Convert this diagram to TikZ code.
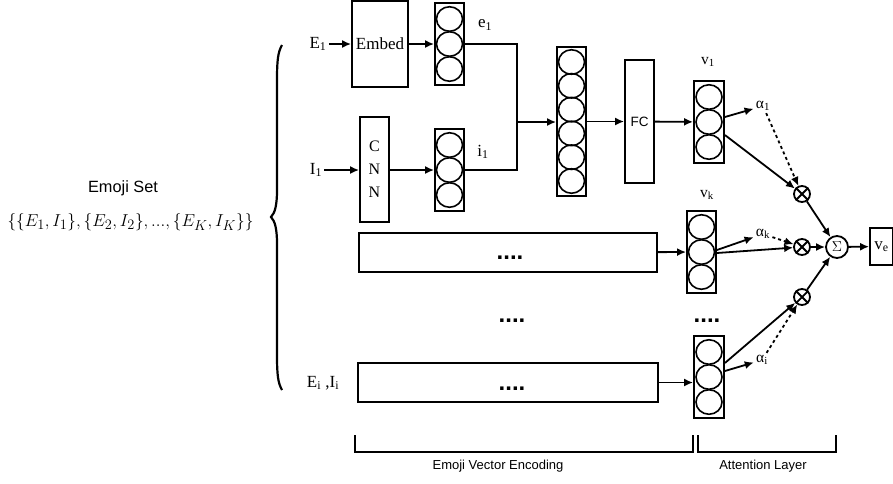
\documentclass[tikz,border=0pt]{standalone}
\usepackage{fontspec}
\setmainfont{Liberation Serif}
\setsansfont{Liberation Sans}
\usetikzlibrary{arrows.meta,calc,shapes.geometric}

% ellipses stacked in a vector box: name, count, spacing
\newcommand{\cellstack}[3]{%
  \foreach \k in {1,...,#2}
    \node[cell] (#1-\k) at ($(#1.center)+(0,{(\k-(#2+1)/2)*#3})$) {};
}

\begin{document}
\begin{tikzpicture}[x=1pt, y=-1pt, line width=1.8pt,
  serif/.style={font=\fontsize{17}{20}\selectfont, inner sep=1.5pt},
  small/.style={font=\fontsize{15.5}{18}\selectfont, inner sep=1.5pt},
  sans/.style={font=\fontsize{13}{15}\sffamily},
  box/.style={draw, rectangle, inner sep=0pt},
  vecbox/.style={box, minimum width=29pt, minimum height=82pt},
  cell/.style={draw, ellipse, inner sep=0pt, minimum width=26pt, minimum height=24.5pt, line width=1.6pt},
  otimes/.style={draw, circle, inner sep=0pt, minimum size=16pt},
  arr/.style={-{Latex[length=9pt,width=8pt]}},
  dotarr/.style={arr, dash pattern=on 3pt off 3pt},
  dots/.style={font=\fontsize{24}{24}\sffamily\bfseries, inner sep=0pt}]
  \useasboundingbox (0,0) rectangle (893,483);

  % emoji set and brace
  \node[font=\fontsize{16.3}{18}\sffamily] (settitle) at (123,188) {Emoji Set};
  \node[font=\fontsize{19}{21}\selectfont] (setlist) at (130.5,222) {$\{\{E_1,I_1\},\{E_2,I_2\},...,\{E_K,I_K\}\}$};
  \draw[line width=2.2pt] (282,45) .. controls (278,52) and (277,60) .. (277,80) -- (277,190)
    .. controls (277,205) and (275,213) .. (271,217) .. controls (275,221) and (277,229) .. (277,244)
    -- (277,355) .. controls (277,375) and (278,383) .. (282,390);

  % emoji text branch
  \node[serif] (E1) at (318,44) {E\textsubscript{1}};
  \node[box, serif, minimum width=56pt, minimum height=86pt] (embed) at (380,44) {Embed};
  \node[vecbox] (ev) at (449.5,44) {};
  \cellstack{ev}{3}{25}
  \node[serif] (elab) at (485,25) {e\textsubscript{1}};
  \draw[arr] (E1) -- (embed);
  \draw[arr] (embed) -- (ev);

  % emoji image branch
  \node[serif] (I1) at (316,170) {I\textsubscript{1}};
  \node[box, align=center, minimum width=29pt, minimum height=105pt, font=\fontsize{16}{23}\selectfont] (cnn) at (374.5,169.5) {C\\N\\N};
  \node[vecbox] (iv) at (449.5,170) {};
  \cellstack{iv}{3}{25}
  \node[serif] (ilab) at (483,152) {i\textsubscript{1}};
  \draw[arr] (I1) -- (cnn.west |- I1);
  \draw[arr] (cnn.east |- iv) -- (iv);

  % concatenation, FC, v1
  \coordinate (join) at (517,122);
  \draw (ev.east) -| (join) |- (iv.east);
  \node[vecbox, minimum height=149pt] (cat) at (571.5,121.5) {};
  \cellstack{cat}{6}{23.8}
  \draw[arr] (join) -- (cat.west |- join);
  \node[box, minimum width=29pt, minimum height=123pt, font=\fontsize{13.5}{15}\sffamily] (fc) at (639.5,121.5) {FC};
  \draw[arr] (cat) -- (fc);
  \node[vecbox, minimum width=30pt] (v1) at (709,122) {};
  \cellstack{v1}{3}{25}
  \node[small] (v1lab) at (708,62) {v\textsubscript{1}};
  \draw[arr] (fc) -- (v1);

  % attention for v1
  \node[small] (a1) at (763,106) {α\textsubscript{1}};
  \node[otimes] (m1) at (802,194) {};
  \draw (m1.north east) -- (m1.south west) (m1.north west) -- (m1.south east);
  \draw[arr] ($(v1.east)+(0,-5)$) -- (a1);
  \draw[arr] ($(v1.east)+(0,13)$) -- (m1);
  \draw[dotarr] (a1) -- (m1);

  % k-th emoji
  \node[box, minimum width=298pt, minimum height=39pt] (rowk) at (508,252.5) {};
  \node[dots] (dotsk) at (510,258) {....};
  \node[vecbox] (vk) at (701.5,252) {};
  \cellstack{vk}{3}{25}
  \node[small] (vklab) at (707,195) {v\textsubscript{k}};
  \draw[arr] (rowk) -- (vk);
  \node[small] (ak) at (763,234) {α\textsubscript{k}};
  \node[otimes] (mk) at (802,247) {};
  \draw (mk.north east) -- (mk.south west) (mk.north west) -- (mk.south east);
  \draw[arr] ($(vk.east)+(0,-2)$) -- (ak);
  \draw[arr] ($(vk.east)+(0,1)$) -- (mk);
  \draw[dotarr] (ak) -- (mk);

  % skipped rows
  \node[dots] (dotsa) at (512,321) {....};
  \node[dots] (dotsb) at (707,321) {....};

  % i-th emoji
  \node[serif] (Ei) at (323,383) {E\textsubscript{i} ,I\textsubscript{i}};
  \node[box, minimum width=300pt, minimum height=39pt] (rowi) at (508,382.5) {};
  \node[dots] (dotsi) at (512,389) {....};
  \node[vecbox, minimum width=30pt] (vi) at (709,377) {};
  \cellstack{vi}{3}{25}
  \draw[arr] (rowi.east) -- (vi.west |- rowi.east);
  \node[small] (ai) at (762,360) {α\textsubscript{i}};
  \node[otimes] (mi) at (802,297) {};
  \draw (mi.north east) -- (mi.south west) (mi.north west) -- (mi.south east);
  \draw[arr] ($(vi.east)+(0,-6)$) -- (ai);
  \draw[arr] ($(vi.east)+(0,-14)$) -- (mi);
  \draw[dotarr] (ai) -- (mi);

  % weighted sum
  \node[draw, circle, inner sep=0pt, minimum size=22pt, font=\fontsize{15}{15}\selectfont] (sum) at (837,247) {$\Sigma$};
  \draw[arr] (m1) -- (sum);
  \draw[arr] (mk) -- (sum);
  \draw[arr] (mi) -- (sum);
  \node[box, serif, minimum width=23pt, minimum height=37pt] (ve) at (881.5,246.5) {v\textsubscript{e}};
  \draw[arr] (sum) -- (ve);

  % bottom brackets
  \draw (355,435) |- (693,452) -- (693,435);
  \draw (698,435) |- (836,452) -- (836,435);
  \node[sans] (enc) at (498,466) {Emoji Vector Encoding};
  \node[sans] (att) at (763,466) {Attention Layer};
\end{tikzpicture}
\end{document}
